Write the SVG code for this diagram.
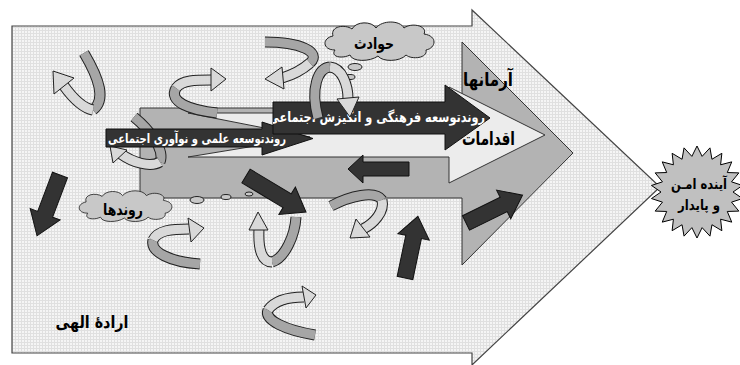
<svg xmlns="http://www.w3.org/2000/svg" width="740" height="365" viewBox="0 0 740 365">
<defs>
<pattern id="grid" width="3" height="3" patternUnits="userSpaceOnUse">
<rect width="3" height="3" fill="#f5f5f5"/>
<path d="M0,0.5 H3 M0.5,0 V3" stroke="#e0e0e0" stroke-width="1"/>
</pattern>
<clipPath id="clip2"><path d="M273,102 H445 V85 L490,118 L445,150 V134 H273 Z"/></clipPath>
<clipPath id="clip1"><path d="M106,129 H262 V122 L313,138.5 L262,155 V147 H106 Z"/></clipPath>
</defs>
<style>
.ar{font-family:"DejaVu Sans",sans-serif;font-weight:bold;direction:rtl;text-anchor:middle}
.rbo{fill:none;stroke:#222;stroke-width:11}
.rb{fill:none;stroke:#a6a6a6;stroke-width:9}
.fr{fill:none;stroke:#d9d9d9;stroke-width:9}
.hd{fill:#d9d9d9;stroke:#222;stroke-width:1;stroke-linejoin:miter}
.blk{fill:#333;stroke:#111;stroke-width:1}
.cl{fill:#c8c8c8;stroke:#222;stroke-width:1}
</style>
<rect width="740" height="365" fill="#fff"/>

<g id="node-divine-will">
<path d="M12,26 H472 V10 L660,187 L472,365 V353 H12 Z" fill="url(#grid)" stroke="#444" stroke-width="1.2"/>
<text class="ar" x="92" y="328" font-size="17" textLength="73" lengthAdjust="spacingAndGlyphs">ارادۀ الهی</text>
</g>

<g id="node-ideals">
<path d="M140,108 H462 V42 L573,153 L462,265 V198 H140 Z" fill="#b3b3b3" stroke="#333" stroke-width="1"/>
<text class="ar" x="488" y="86" font-size="19" textLength="50" lengthAdjust="spacingAndGlyphs">آرمانها</text>
</g>

<g id="node-actions">
<path d="M188,113 H449 V87 L545,135 L449,183 V157 H188 L310,137 Z" fill="#ececec" stroke="#333" stroke-width="1"/>
<text class="ar" x="488.5" y="145" font-size="19" textLength="53" lengthAdjust="spacingAndGlyphs">اقدامات</text>
</g>

<g id="curve-5">
<path class="rbo" d="M134,117 C150,130 165,150 160,162"/>
<path class="rb" d="M134,117 C150,130 165,150 160,162"/>
<path class="rbo" d="M160,162 C150,168 132,162 121,154"/>
<path class="fr" d="M160,162 C150,168 132,162 121,154"/>
<polygon class="hd" points="110,146 127,150 113,163"/>
</g>

<g id="node-science-trend">
<path d="M106,129 H262 V122 L313,138.5 L262,155 V147 H106 Z" fill="#333" stroke="#111" stroke-width="1"/>
<text class="ar" x="197" y="143" font-size="13" fill="#fff" clip-path="url(#clip1)" textLength="178" lengthAdjust="spacingAndGlyphs">روندتوسعه علمی و نوآوری اجتماعی</text>
</g>

<g id="node-culture-trend">
<path d="M273,102 H445 V85 L490,118 L445,150 V134 H273 Z" fill="#333" stroke="#111" stroke-width="1"/>
<text class="ar" x="376.5" y="122" font-size="14" fill="#fff" clip-path="url(#clip2)" textLength="217" lengthAdjust="spacingAndGlyphs">روندتوسعه فرهنگی و انگیزش اجتماعی</text>
</g>

<g id="node-events">
<path class="cl" d="M335,50 C322,50 322,38 333,36 C330,26 345,24 352,29 C356,21 372,21 376,28 C382,20 400,20 404,28 C412,22 428,26 424,34 C438,36 436,48 426,50 C428,58 412,60 406,55 C400,62 382,62 378,56 C370,62 352,62 350,55 C342,59 330,57 335,50 Z"/>
<ellipse class="cl" cx="355" cy="67" rx="7" ry="3.5"/>
<ellipse class="cl" cx="350" cy="77" rx="5" ry="2.5"/>
<text class="ar" x="374" y="49" font-size="16" textLength="40" lengthAdjust="spacingAndGlyphs">حوادث</text>
</g>

<g id="node-trends">
<path class="cl" transform="translate(126,206) scale(0.85,0.8) translate(-380,-41)" d="M335,50 C322,50 322,38 333,36 C330,26 345,24 352,29 C356,21 372,21 376,28 C382,20 400,20 404,28 C412,22 428,26 424,34 C438,36 436,48 426,50 C428,58 412,60 406,55 C400,62 382,62 378,56 C370,62 352,62 350,55 C342,59 330,57 335,50 Z"/>
<ellipse class="cl" cx="197" cy="200" rx="7" ry="3.5"/>
<ellipse class="cl" cx="226" cy="197" rx="5" ry="2.5"/>
<ellipse class="cl" cx="249" cy="194" rx="4" ry="2"/>
<text class="ar" x="123" y="215" font-size="16" textLength="40" lengthAdjust="spacingAndGlyphs">روندها</text>
</g>

<g id="connectors">
<g id="curve-1">
<path class="rbo" d="M84,53 C100,80 106,100 93,110"/>
<path class="rb" d="M84,53 C100,80 106,100 93,110"/>
<path class="rbo" d="M93,110 C82,108 72,97 64,86"/>
<path class="fr" d="M93,110 C82,108 72,97 64,86"/>
<polygon class="hd" points="53,71 74,78 54,94"/>
</g>
<g id="curve-2">
<path class="rbo" d="M217,113 C190,110 168,102 176,88"/>
<path class="rb" d="M217,113 C190,110 168,102 176,88"/>
<path class="rbo" d="M176,88 C182,80 196,80 211,80"/>
<path class="fr" d="M176,88 C182,80 196,80 211,80"/>
<polygon class="hd" points="226,79 211,68 211,91"/>
</g>
<g id="curve-3">
<path class="rbo" d="M265,42 C300,42 322,52 310,63"/>
<path class="rb" d="M265,42 C300,42 322,52 310,63"/>
<path class="rbo" d="M310,63 C302,70 292,75 282,78"/>
<path class="fr" d="M310,63 C302,70 292,75 282,78"/>
<polygon class="hd" points="265,79 282,67 284,89"/>
</g>
<g id="curve-4">
<path class="rbo" d="M318,118 C310,88 318,68 330,67"/>
<path class="rb" d="M318,118 C310,88 318,68 330,67"/>
<path class="rbo" d="M330,67 C342,68 348,85 348,99"/>
<path class="fr" d="M330,67 C342,68 348,85 348,99"/>
<polygon class="hd" points="350,117 337,99 359,97"/>
</g>
<g id="curve-6">
<path class="rbo" d="M200,264 C170,262 150,252 153,240"/>
<path class="rb" d="M200,264 C170,262 150,252 153,240"/>
<path class="rbo" d="M153,240 C158,230 172,229 189,229"/>
<path class="fr" d="M153,240 C158,230 172,229 189,229"/>
<polygon class="hd" points="204,228 188,218 191,242"/>
</g>
<g id="curve-7">
<path class="rbo" d="M272,262 C285,258 295,235 296,217"/>
<path class="rb" d="M272,262 C285,258 295,235 296,217"/>
<path class="rbo" d="M259,229 C258,250 262,262 272,262"/>
<path class="fr" d="M259,229 C258,250 262,262 272,262"/>
<polygon class="hd" points="258,212 249,230 268,230"/>
</g>
<g id="curve-8">
<path class="rbo" d="M315,335 C285,330 264,320 268,310"/>
<path class="rb" d="M315,335 C285,330 264,320 268,310"/>
<path class="rbo" d="M268,310 C275,300 290,297 304,297"/>
<path class="fr" d="M268,310 C275,300 290,297 304,297"/>
<polygon class="hd" points="316,295 302,286 306,308"/>
</g>
<g id="curve-9">
<path class="rbo" d="M331,206 C350,196 375,190 382,200"/>
<path class="rb" d="M331,206 C350,196 375,190 382,200"/>
<path class="rbo" d="M382,200 C385,212 373,224 363,229"/>
<path class="fr" d="M382,200 C385,212 373,224 363,229"/>
<polygon class="hd" points="350,238 370,237 356,219"/>
</g>
<path class="blk" d="M409,162 H363 V155 L348,169 L363,183 V176 H409 Z"/>
<path class="blk" transform="translate(60,175) rotate(110.7)" d="M0,-8 H42 V-16 L65,0 L42,16 V8 H0 Z"/>
<path class="blk" transform="translate(246,176) rotate(31)" d="M0,-8 H48 V-16 L70,0 L48,16 V8 H0 Z"/>
<path class="blk" transform="translate(405,278) rotate(-78.2)" d="M0,-8 H42 V-16 L63,0 L42,16 V8 H0 Z"/>
<path class="blk" transform="translate(466,223) rotate(-26.2)" d="M0,-8 H42 V-16 L63,0 L42,16 V8 H0 Z"/>
</g>

<g id="node-future">
<polygon points="697,146 702.12,156.37 709.96,147.86 711.95,159.25 721.87,153.3 720.58,164.79 731.76,161.87 727.29,172.54 738.84,172.89 731.54,181.86 742.53,185.45 733,192 742.53,198.55 731.54,202.14 738.84,211.11 727.29,211.46 731.76,222.13 720.58,219.21 721.87,230.7 711.95,224.75 709.96,236.14 702.12,227.63 697,238 691.88,227.63 684.04,236.14 682.05,224.75 672.13,230.7 673.42,219.21 662.24,222.13 666.71,211.46 655.16,211.11 662.46,202.14 651.47,198.55 661,192 651.47,185.45 662.46,181.86 655.16,172.89 666.71,172.54 662.24,161.87 673.42,164.79 672.13,153.3 682.05,159.25 684.04,147.86 691.88,156.37" fill="#c0c0c0" stroke="#000" stroke-width="1"/>
<text class="ar" x="699" y="189" font-size="14" textLength="56" lengthAdjust="spacingAndGlyphs">آینده امـن</text>
<text class="ar" x="699" y="210" font-size="14" textLength="42" lengthAdjust="spacingAndGlyphs">و پایدار</text>
</g>
</svg>
